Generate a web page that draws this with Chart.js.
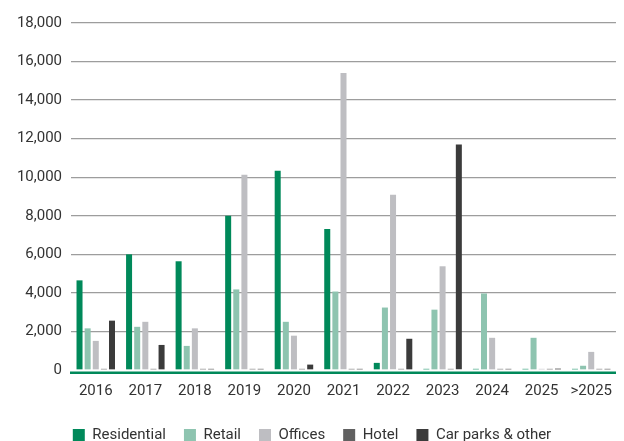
<!DOCTYPE html>
<html>
<head>
<meta charset="utf-8">
<script src="https://cdn.jsdelivr.net/npm/chart.js@4"></script>
<style>
  html, body { margin: 0; padding: 0; background: #fff; }
  #wrap { width: 624px; height: 441px; overflow: hidden; }
</style>
</head>
<body>
<div id="wrap"><canvas id="expiries"></canvas></div>
<script>
// lease expiries by year and segment (sqm)
const years = ['2016', '2017', '2018', '2019', '2020', '2021', '2022', '2023', '2024', '2025', '>2025'];
const residential = [4650, 6000, 5640, 8000, 10340, 7310, 370, 60, 60, 60, 60];
const retail = [2160, 2240, 1250, 4180, 2500, 4070, 3240, 3130, 3970, 1670, 220];
const offices = [1510, 2500, 2160, 10130, 1780, 15400, 9090, 5380, 1670, 60, 940];
const hotel = [60, 60, 60, 60, 60, 60, 60, 60, 60, 60, 60];
const carParks = [2560, 1300, 60, 60, 280, 60, 1620, 11700, 60, 70, 60];
const yTicks = [0, 2000, 4000, 6000, 8000, 10000, 12000, 14000, 16000, 18000];

const fontFamily = 'Roboto, "Liberation Sans", sans-serif';
const green = '#00895a';

const makeSet = (label, data, color) => ({
    label: label,
    data: data,
    backgroundColor: color,
    borderWidth: 0,
    categoryPercentage: 0.82,
    barPercentage: 0.74,
});

// green base line drawn just below the bars
const baseLine = {
    id: 'baseLine',
    afterDatasetsDraw: (chart) => {
        const { ctx, chartArea } = chart;
        ctx.save();
        ctx.fillStyle = green;
        ctx.fillRect(chartArea.left - 1, chartArea.bottom + 1.5, chartArea.right - chartArea.left + 1, 2.5);
        ctx.restore();
    }
};

const ctx = document.getElementById('expiries').getContext('2d');

const chart = new Chart(ctx, {
    type: 'bar',
    data: {
        labels: years,
        datasets: [
            makeSet('Residential', residential, green),
            makeSet('Retail', retail, '#8ec4b0'),
            makeSet('Offices', offices, '#bebec2'),
            makeSet('Hotel', hotel, '#616161'),
            makeSet('Car parks & other', carParks, '#3b3b3b'),
        ]
    },
    plugins: [baseLine],
    options: {
        responsive: true,
        maintainAspectRatio: false,
        animation: false,
        layout: {
            padding: { top: 23, right: 0, left: 0, bottom: -12 }
        },
        scales: {
            x: {
                afterFit: (scale) => {
                    scale.height = 40;
                },
                grid: { display: false, drawTicks: false },
                border: { display: false },
                ticks: {
                    color: '#333',
                    padding: 12,
                    font: { family: fontFamily, size: 15 }
                }
            },
            y: {
                min: 0,
                max: 18000,
                afterBuildTicks: (scale) => {
                    scale.ticks = yTicks.map(v => ({ value: v }));
                },
                afterFit: (scale) => {
                    scale.width = 71;
                },
                grid: {
                    color: (c) => c.tick && c.tick.value === 0 ? 'rgba(0,0,0,0)' : '#9d9d9d',
                    lineWidth: 1.3,
                    drawTicks: false
                },
                border: { display: false },
                ticks: {
                    color: '#333',
                    padding: 9,
                    font: { family: fontFamily, size: 15 },
                    callback: (v) => v.toLocaleString('en-US')
                }
            }
        },
        plugins: {
            legend: {
                position: 'bottom',
                labels: {
                    boxWidth: 12,
                    boxHeight: 13,
                    padding: 18,
                    color: '#333',
                    font: { family: fontFamily, size: 15 }
                }
            },
            tooltip: { enabled: false }
        }
    }
});
</script>
</body>
</html>
